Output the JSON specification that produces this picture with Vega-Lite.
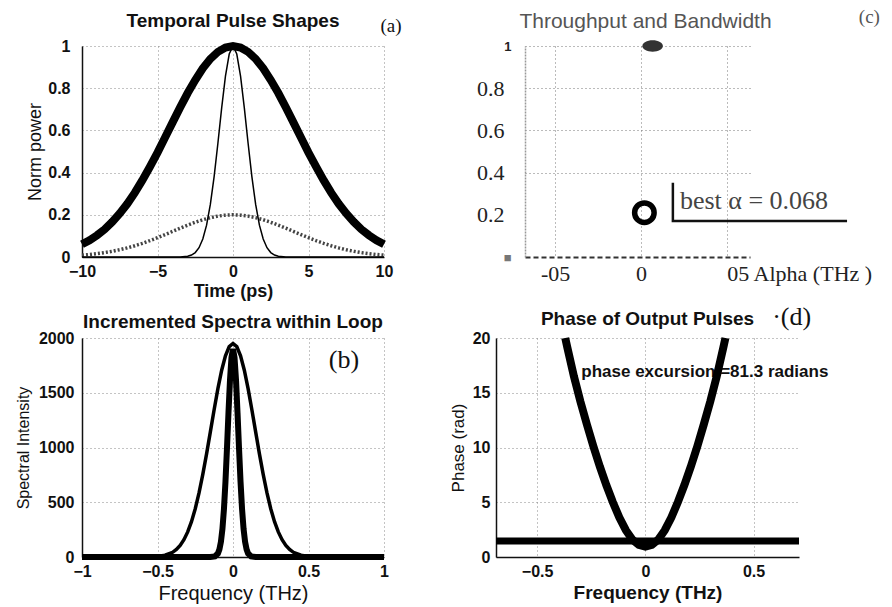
{
  "$schema": "https://vega.github.io/schema/vega-lite/v6.json",
  "background": "white",
  "padding": {"left": 15, "top": 8, "right": 4, "bottom": 4},
  "config": {
    "view": {"stroke": null},
    "font": "Liberation Sans",
    "axis": {
      "labelFont": "Liberation Sans", "labelFontSize": 16, "labelFontWeight": "bold", "labelColor": "#111",
      "titleFont": "Liberation Sans", "titleFontSize": 16, "titleFontWeight": "bold", "titleColor": "#111",
      "domainColor": "#111", "domainWidth": 1.5, "ticks": false,
      "gridColor": "#888", "gridDash": [1, 3], "gridWidth": 1, "gridOpacity": 1, "labelFlush": false
    },
    "title": {"font": "Liberation Sans", "fontSize": 19, "fontWeight": "bold", "color": "#111", "anchor": "middle", "frame": "group"}
  },
  "datasets": {
    "aWide": [
      {"x": -10, "y": 0.060}, {"x": -9.5, "y": 0.079}, {"x": -9, "y": 0.103}, {"x": -8.5, "y": 0.131}, {"x": -8, "y": 0.166},
      {"x": -7.5, "y": 0.206}, {"x": -7, "y": 0.252}, {"x": -6.5, "y": 0.305}, {"x": -6, "y": 0.364}, {"x": -5.5, "y": 0.428},
      {"x": -5, "y": 0.495}, {"x": -4.5, "y": 0.566}, {"x": -4, "y": 0.638}, {"x": -3.5, "y": 0.709}, {"x": -3, "y": 0.777},
      {"x": -2.5, "y": 0.839}, {"x": -2, "y": 0.894}, {"x": -1.5, "y": 0.939}, {"x": -1, "y": 0.972}, {"x": -0.5, "y": 0.993},
      {"x": 0, "y": 1.0},
      {"x": 0.5, "y": 0.993}, {"x": 1, "y": 0.972}, {"x": 1.5, "y": 0.939}, {"x": 2, "y": 0.894}, {"x": 2.5, "y": 0.839},
      {"x": 3, "y": 0.777}, {"x": 3.5, "y": 0.709}, {"x": 4, "y": 0.638}, {"x": 4.5, "y": 0.566}, {"x": 5, "y": 0.495},
      {"x": 5.5, "y": 0.428}, {"x": 6, "y": 0.364}, {"x": 6.5, "y": 0.305}, {"x": 7, "y": 0.252}, {"x": 7.5, "y": 0.206},
      {"x": 8, "y": 0.166}, {"x": 8.5, "y": 0.131}, {"x": 9, "y": 0.103}, {"x": 9.5, "y": 0.079}, {"x": 10, "y": 0.060}
    ],
    "aDot": [
      {"x": -10, "y": 0.0088}, {"x": -9.5, "y": 0.0119}, {"x": -9, "y": 0.0159}, {"x": -8.5, "y": 0.0209}, {"x": -8, "y": 0.0271},
      {"x": -7.5, "y": 0.0345}, {"x": -7, "y": 0.0432}, {"x": -6.5, "y": 0.0534}, {"x": -6, "y": 0.0649}, {"x": -5.5, "y": 0.0777},
      {"x": -5, "y": 0.0916}, {"x": -4.5, "y": 0.1062}, {"x": -4, "y": 0.1213}, {"x": -3.5, "y": 0.1364}, {"x": -3, "y": 0.1510},
      {"x": -2.5, "y": 0.1646}, {"x": -2, "y": 0.1765}, {"x": -1.5, "y": 0.1864}, {"x": -1, "y": 0.1938}, {"x": -0.5, "y": 0.1984},
      {"x": 0, "y": 0.2},
      {"x": 0.5, "y": 0.1984}, {"x": 1, "y": 0.1938}, {"x": 1.5, "y": 0.1864}, {"x": 2, "y": 0.1765}, {"x": 2.5, "y": 0.1646},
      {"x": 3, "y": 0.1510}, {"x": 3.5, "y": 0.1364}, {"x": 4, "y": 0.1213}, {"x": 4.5, "y": 0.1062}, {"x": 5, "y": 0.0916},
      {"x": 5.5, "y": 0.0777}, {"x": 6, "y": 0.0649}, {"x": 6.5, "y": 0.0534}, {"x": 7, "y": 0.0432}, {"x": 7.5, "y": 0.0345},
      {"x": 8, "y": 0.0271}, {"x": 8.5, "y": 0.0209}, {"x": 9, "y": 0.0159}, {"x": 9.5, "y": 0.0119}, {"x": 10, "y": 0.0088}
    ],
    "aNarrow": [
      {"x": -10, "y": 0}, {"x": -3.5, "y": 0}, {"x": -3, "y": 0.0039}, {"x": -2.75, "y": 0.0094}, {"x": -2.5, "y": 0.021},
      {"x": -2.25, "y": 0.044}, {"x": -2, "y": 0.085}, {"x": -1.75, "y": 0.151}, {"x": -1.5, "y": 0.249}, {"x": -1.25, "y": 0.381},
      {"x": -1, "y": 0.539}, {"x": -0.75, "y": 0.707}, {"x": -0.5, "y": 0.857}, {"x": -0.25, "y": 0.962}, {"x": 0, "y": 1.0},
      {"x": 0.25, "y": 0.962}, {"x": 0.5, "y": 0.857}, {"x": 0.75, "y": 0.707}, {"x": 1, "y": 0.539}, {"x": 1.25, "y": 0.381},
      {"x": 1.5, "y": 0.249}, {"x": 1.75, "y": 0.151}, {"x": 2, "y": 0.085}, {"x": 2.25, "y": 0.044}, {"x": 2.5, "y": 0.021},
      {"x": 2.75, "y": 0.0094}, {"x": 3, "y": 0.0039}, {"x": 3.5, "y": 0}, {"x": 10, "y": 0}
    ],
    "bWide": [
      {"x": -1, "y": 0}, {"x": -0.6, "y": 0}, {"x": -0.5, "y": 5}, {"x": -0.45, "y": 16}, {"x": -0.4, "y": 43},
      {"x": -0.375, "y": 69}, {"x": -0.35, "y": 106}, {"x": -0.325, "y": 158}, {"x": -0.3, "y": 229}, {"x": -0.275, "y": 323},
      {"x": -0.25, "y": 441}, {"x": -0.225, "y": 585}, {"x": -0.2, "y": 754}, {"x": -0.175, "y": 942}, {"x": -0.15, "y": 1143},
      {"x": -0.125, "y": 1345}, {"x": -0.1, "y": 1537}, {"x": -0.075, "y": 1706}, {"x": -0.05, "y": 1837}, {"x": -0.025, "y": 1921},
      {"x": 0, "y": 1950},
      {"x": 0.025, "y": 1921}, {"x": 0.05, "y": 1837}, {"x": 0.075, "y": 1706}, {"x": 0.1, "y": 1537}, {"x": 0.125, "y": 1345},
      {"x": 0.15, "y": 1143}, {"x": 0.175, "y": 942}, {"x": 0.2, "y": 754}, {"x": 0.225, "y": 585}, {"x": 0.25, "y": 441},
      {"x": 0.275, "y": 323}, {"x": 0.3, "y": 229}, {"x": 0.325, "y": 158}, {"x": 0.35, "y": 106}, {"x": 0.375, "y": 69},
      {"x": 0.4, "y": 43}, {"x": 0.45, "y": 16}, {"x": 0.5, "y": 5}, {"x": 0.6, "y": 0}, {"x": 1, "y": 0}
    ],
    "bNarrow": [
      {"x": -1, "y": 0}, {"x": -0.15, "y": 0}, {"x": -0.12, "y": 5}, {"x": -0.1, "y": 32}, {"x": -0.09, "y": 70},
      {"x": -0.08, "y": 139}, {"x": -0.07, "y": 257}, {"x": -0.06, "y": 437}, {"x": -0.05, "y": 685}, {"x": -0.04, "y": 989},
      {"x": -0.03, "y": 1316}, {"x": -0.02, "y": 1614}, {"x": -0.01, "y": 1824}, {"x": 0, "y": 1900},
      {"x": 0.01, "y": 1824}, {"x": 0.02, "y": 1614}, {"x": 0.03, "y": 1316}, {"x": 0.04, "y": 989}, {"x": 0.05, "y": 685},
      {"x": 0.06, "y": 437}, {"x": 0.07, "y": 257}, {"x": 0.08, "y": 139}, {"x": 0.09, "y": 70}, {"x": 0.1, "y": 32},
      {"x": 0.12, "y": 5}, {"x": 0.15, "y": 0}, {"x": 1, "y": 0}
    ],
    "dPar": [
      {"x": -0.37, "y": 20}, {"x": -0.36, "y": 19.1}, {"x": -0.33, "y": 16.5}, {"x": -0.3, "y": 14.2}, {"x": -0.27, "y": 12.1},
      {"x": -0.24, "y": 10.1}, {"x": -0.21, "y": 8.25}, {"x": -0.18, "y": 6.55}, {"x": -0.15, "y": 5.0}, {"x": -0.12, "y": 3.6},
      {"x": -0.09, "y": 2.45}, {"x": -0.06, "y": 1.6}, {"x": -0.03, "y": 1.1}, {"x": 0, "y": 0.95},
      {"x": 0.03, "y": 1.1}, {"x": 0.06, "y": 1.6}, {"x": 0.09, "y": 2.45}, {"x": 0.12, "y": 3.6}, {"x": 0.15, "y": 5.0},
      {"x": 0.18, "y": 6.55}, {"x": 0.21, "y": 8.25}, {"x": 0.24, "y": 10.1}, {"x": 0.27, "y": 12.1}, {"x": 0.3, "y": 14.2},
      {"x": 0.33, "y": 16.5}, {"x": 0.36, "y": 19.1}, {"x": 0.37, "y": 20}
    ],
    "dLine": [{"x": -0.69, "y": 1.45}, {"x": 0.71, "y": 1.45}],
    "cBracket": [{"k": 1, "x": 0.186, "y": 0.352}, {"k": 2, "x": 0.186, "y": 0.171}, {"k": 3, "x": 1.2, "y": 0.171}],
    "empty": []
  },
  "concat": [
    {
      "width": 302, "height": 211,
      "title": {"text": "Temporal Pulse Shapes", "offset": -14},
      "encoding": {
        "x": {"field": "x", "type": "quantitative", "scale": {"domain": [-10, 10], "nice": false},
              "axis": {"values": [-10, -5, 0, 5, 10], "title": "Time (ps)", "titleFontSize": 18, "labelPadding": 6, "titlePadding": 3}},
        "y": {"field": "y", "type": "quantitative", "scale": {"domain": [0, 1], "nice": false},
              "axis": {"values": [0, 0.2, 0.4, 0.6, 0.8, 1], "format": "~g", "title": "Norm power", "titleFontSize": 18, "labelPadding": 12, "titlePadding": 3, "titleFontWeight": "normal"}}
      },
      "layer": [
        {"data": {"name": "aDot"}, "mark": {"type": "line", "color": "#444", "strokeWidth": 3.5, "strokeDash": [2, 2]}},
        {"data": {"name": "aNarrow"}, "mark": {"type": "line", "color": "#000", "strokeWidth": 1.5}},
        {"data": {"name": "aWide"}, "mark": {"type": "line", "color": "#000", "strokeWidth": 8}},
        {"data": {"values": [{"x": 10.46, "y": 1.095, "label": "(a)"}]},
         "mark": {"type": "text", "font": "Liberation Serif", "fontSize": 19, "align": "center", "baseline": "middle", "color": "#111"},
         "encoding": {"text": {"field": "label"}}}
      ]
    },
    {
      "hconcat": [
        {"width": 29, "height": 1, "data": {"name": "empty"}, "mark": "point"},
        {
          "width": 225, "height": 211,
          "title": {"text": "Throughput and Bandwidth", "fontWeight": "normal", "fontSize": 21, "color": "#555", "offset": -24, "dx": 8},
          "encoding": {
            "x": {"field": "x", "type": "quantitative", "scale": {"domain": [-0.675, 0.635], "nice": false},
                  "axis": {"values": [-0.5, 0, 0.5],
                           "labelExpr": "datum.value == 0 ? '0' : (datum.value < 0 ? '-05' : '05 Alpha (THz )')",
                           "labelFont": "Liberation Serif", "labelFontWeight": "normal", "labelFontSize": 22, "labelColor": "#222",
                           "labelAlign": {"condition": {"test": "datum.value == 0.5", "value": "left"}, "value": "center"},
                           "gridColor": "#777",
                           "title": null, "domainDash": [5, 3], "domainColor": "#333", "domainWidth": 2, "labelPadding": 6}},
            "y": {"field": "y", "type": "quantitative", "scale": {"domain": [0, 1], "nice": false},
                  "axis": {"values": [0, 0.2, 0.4, 0.6, 0.8, 1],
                           "labelExpr": "datum.value == 1 ? '1' : (datum.value == 0 ? '■' : format(datum.value, '.1f'))",
                           "labelFont": {"condition": {"test": "datum.value == 1 || datum.value == 0", "value": "Liberation Sans"}, "value": "Liberation Serif"},
                           "labelFontWeight": {"condition": {"test": "datum.value == 1", "value": "bold"}, "value": "normal"},
                           "labelFontSize": {"condition": {"test": "datum.value == 1 || datum.value == 0", "value": 13}, "value": 22},
                           "labelColor": {"condition": {"test": "datum.value == 0", "value": "#777"}, "value": "#222"},
                           "labelPadding": {"condition": {"test": "datum.value == 1 || datum.value == 0", "value": 14}, "value": 21},
                           "gridColor": {"condition": {"test": "datum.value == 0.2 || datum.value == 0", "value": "transparent"}, "value": "#777"},
                           "title": null, "domainColor": "#999", "domainDash": [2, 1], "domainWidth": 1.5}}
          },
          "layer": [
            {"data": {"values": [{"x": 0.02, "y": 0.21}]},
             "mark": {"type": "point", "shape": "circle", "filled": false, "size": 380, "strokeWidth": 5.5, "color": "#000", "opacity": 1}},
            {"data": {"values": [{"x": 0.068, "y": 1.0}]},
             "mark": {"type": "point", "shape": "M -1 0 A 1 0.55 0 1 0 1 0 A 1 0.55 0 1 0 -1 0 Z", "filled": true, "size": 420, "color": "#333", "opacity": 1}},
            {"data": {"name": "cBracket"}, "mark": {"type": "line", "color": "#111", "strokeWidth": 2.5},
             "encoding": {"order": {"field": "k", "type": "quantitative"}}},
            {"data": {"values": [{"x": 0.227, "y": 0.267, "label": "best α = 0.068"}]},
             "mark": {"type": "text", "font": "Liberation Serif", "fontSize": 26, "align": "left", "baseline": "middle", "color": "#444"},
             "encoding": {"text": {"field": "label"}}},
            {"data": {"values": [{"x": 1.33, "y": 1.137, "label": "(c)"}]},
             "mark": {"type": "text", "font": "Liberation Serif", "fontSize": 19, "align": "center", "baseline": "middle", "color": "#555"},
             "encoding": {"text": {"field": "label"}}}
          ]
        }
      ],
      "spacing": 0,
      "bounds": "flush"
    },
    {
      "width": 302, "height": 219,
      "title": {"text": "Incremented Spectra within Loop", "offset": -2},
      "encoding": {
        "x": {"field": "x", "type": "quantitative", "scale": {"domain": [-1, 1], "nice": false},
              "axis": {"values": [-1, -0.5, 0, 0.5, 1], "format": "~g", "title": "Frequency (THz)", "titleFontSize": 20, "titleFontWeight": "normal", "labelPadding": 6, "titlePadding": 4}},
        "y": {"field": "y", "type": "quantitative", "scale": {"domain": [0, 2000], "nice": false},
              "axis": {"values": [0, 500, 1000, 1500, 2000], "format": "d", "title": "Spectral Intensity", "titleFontWeight": "normal", "labelPadding": 8, "titlePadding": 7}}
      },
      "layer": [
        {"data": {"name": "bWide"}, "mark": {"type": "line", "color": "#000", "strokeWidth": 3.5}},
        {"data": {"name": "bNarrow"}, "mark": {"type": "line", "color": "#000", "strokeWidth": 6}},
        {"data": {"values": [{"x": 0.735, "y": 1799, "label": "(b)"}]},
         "mark": {"type": "text", "font": "Liberation Serif", "fontSize": 26, "align": "center", "baseline": "middle", "color": "#111"},
         "encoding": {"text": {"field": "label"}}}
      ]
    },
    {
      "width": 303, "height": 219,
      "title": {"text": "Phase of Output Pulses", "offset": -25},
      "encoding": {
        "x": {"field": "x", "type": "quantitative", "scale": {"domain": [-0.69, 0.71], "nice": false},
              "axis": {"values": [-0.5, 0, 0.5], "format": "~g", "title": "Frequency (THz)", "titleFontSize": 19, "labelPadding": 6, "titlePadding": 4}},
        "y": {"field": "y", "type": "quantitative", "scale": {"domain": [0, 20], "nice": false},
              "axis": {"values": [0, 5, 10, 15, 20], "format": "d", "title": "Phase (rad)", "titleFontSize": 17, "titleFontWeight": "normal", "labelPadding": 6, "titlePadding": 5}}
      },
      "layer": [
        {"data": {"name": "dLine"}, "mark": {"type": "line", "color": "#000", "strokeWidth": 7}},
        {"data": {"values": [{"x": -0.296, "y": 16.9, "label": "phase excursion =81.3  radians"}]},
         "mark": {"type": "text", "font": "Liberation Sans", "fontSize": 17, "fontWeight": "bold", "align": "left", "baseline": "middle", "color": "#111"},
         "encoding": {"text": {"field": "label"}}},
        {"data": {"name": "dPar"}, "mark": {"type": "line", "color": "#000", "strokeWidth": 8}},
        {"data": {"values": [{"x": 0.676, "y": 21.9, "label": "·(d)"}]},
         "mark": {"type": "text", "font": "Liberation Serif", "fontSize": 26, "align": "center", "baseline": "middle", "color": "#111"},
         "encoding": {"text": {"field": "label"}}}
      ]
    }
  ],
  "columns": 2,
  "spacing": {"row": 81, "column": 112},
  "bounds": "flush"
}
